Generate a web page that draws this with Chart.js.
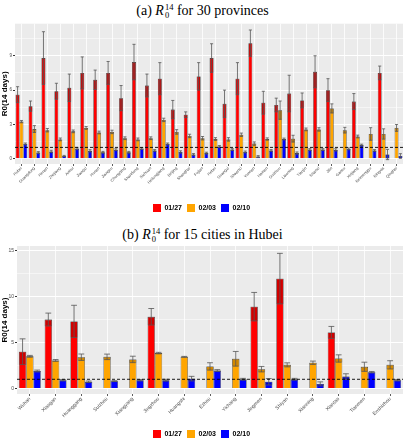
<!DOCTYPE html>
<html>
<head>
<meta charset="utf-8">
<script src="https://cdn.jsdelivr.net/npm/chart.js@4.4.1/dist/chart.umd.min.js"></script>
<style>
  body { margin: 0; background: #fff; width: 405px; height: 440px; position: relative; overflow: hidden; }
  .ttl { position: absolute; left: 0; width: 405px; text-align: center; font-family: "Liberation Serif", serif; font-size: 14px; line-height: 1; color: #000; }
  .ss { display: inline-block; vertical-align: -0.32em; font-size: 8.5px; line-height: 0.95; text-align: left; margin-left: 1px; }
  .ss span { display: block; }
  .box { position: absolute; left: 0; width: 405px; }
</style>
</head>
<body>
<div class="ttl" style="top:3px">(a) <i>R</i><span class="ss"><span>14</span><span>0</span></span> for 30 provinces</div>
<div class="box" style="top:20px;height:202px"><canvas id="provChart"></canvas></div>
<div class="ttl" style="top:227px">(b) <i>R</i><span class="ss"><span>14</span><span>0</span></span> for 15 cities in Hubei</div>
<div class="box" style="top:242px;height:206px"><canvas id="cityChart"></canvas></div>
<script>
// dates in the legend
const dates = ['01/27', '02/03', '02/10'];

// (a) provinces
const provinces = ['Hubei', 'Guangdong', 'Henan', 'Zhejiang', 'Anhui', 'Jiangxi', 'Hunan', 'Jiangsu', 'Chongqing', 'Shandong',
  'Sichuan', 'Heilongjiang', 'Beijing', 'Shanghai', 'Fujian', 'Hebei', 'Guangxi', 'Shaanxi', 'Yunnan', 'Hainan',
  'Guizhou', 'Liaoning', 'Tianjin', 'Shanxi', 'Jilin', 'Gansu', 'Xinjiang', 'Neimenggu', 'Ningxia', 'Qinghai'];
const prov0127 = [5.6, 4.6, 8.8, 5.9, 6.2, 7.5, 6.9, 7.5, 5.3, 8.45, 6.4, 7.0, 4.3, 3.85, 7.2, 8.8, 4.8, 7.0, 10.1, 4.9,
  4.7, 5.7, 5.1, 7.6, 6.0, null, 5.0, null, 7.5, null];
const prov0203 = [3.25, 2.6, 2.5, 1.7, 2.4, 2.7, 2.3, 2.35, 1.8, 1.7, 1.8, 3.4, 2.35, 2.0, 1.8, 1.73, 1.7, 2.1, 1.33, 1.73,
  4.25, 1.76, 2.57, 2.57, 4.4, 2.5, 1.95, 2.17, 2.17, 2.7];
const prov0210 = [1.3, 0.55, 0.65, 0.25, 0.9, 0.7, 0.57, 0.8, 0.57, 0.9, 0.73, 1.3, 0.6, 0.38, 0.5, 1.08, 0.81, 0.6, 0.2, 0.73,
  1.73, 0.5, 0.81, 0.81, 0.78, 0.87, 1.2, 0.73, 0.38, 0.25];
// half widths of the error bars
const provErr0127 = [0.7, 0.45, 2.3, 0.7, 1.2, 1.4, 0.85, 1.0, 1.1, 1.55, 1.0, 1.4, 0.8, 0.25, 1.2, 1.25, 1.2, 1.4, 1.15, 1.0,
  0.6, 1.6, 0.65, 1.4, 1.0, null, 0.7, null, 0.6, null];
const provErr0203 = [0.1, 0.3, 0.15, 0.12, 0.12, 0.12, 0.12, 0.15, 0.12, 0.12, 0.12, 0.15, 0.2, 0.15, 0.15, 0.12, 0.15, 0.15, 0.15, 0.1,
  0.8, 0.3, 0.12, 0.15, 0.4, 0.25, 0.12, 0.55, 0.45, 0.3];
const provErr0210 = [0.08, 0.08, 0.1, 0.05, 0.1, 0.1, 0.08, 0.08, 0.08, 0.08, 0.08, 0.08, 0.1, 0.08, 0.08, 0.08, 0.08, 0.08, 0.08, 0.08,
  0.08, 0.1, 0.08, 0.08, 0.1, 0.08, 0.08, 0.08, 0.45, 0.2];
const provTicks = [0, 3, 6, 9];

// (b) cities in Hubei
const cities = ['Wuhan', 'Xiaogan', 'Huanggang', 'Suizhou', 'Xiangyang', 'Jingzhou', 'Huangshi', 'Ezhou', 'Yichang', 'Jingmen',
  'Shiyan', 'Xianning', 'Xiantao', 'Tianmen', 'Enshizhou'];
const city0127 = [4.0, 7.5, 7.3, null, null, 7.8, null, null, null, 8.9, 11.95, null, 6.1, null, null];
const city0203 = [3.5, 3.05, 3.4, 3.44, 3.16, 3.85, 3.44, 2.4, 3.23, 2.1, 2.57, 2.8, 3.26, 2.36, 2.57];
const city0210 = [1.9, 0.9, 0.73, 0.8, 0.9, 0.9, 1.07, 1.95, 1.0, 0.73, 1.0, 0.5, 1.3, 1.77, 0.9];
const cityErr0127 = [1.4, 0.7, 1.75, null, null, 0.9, null, null, null, 1.55, 2.75, null, 0.65, null, null];
const cityErr0203 = [0.1, 0.1, 0.35, 0.3, 0.35, 0.08, 0.05, 0.4, 0.8, 0.3, 0.22, 0.18, 0.4, 0.5, 0.45];
const cityErr0210 = [0.1, 0.08, 0.08, 0.05, 0.08, 0.1, 0.25, 0.1, 0.1, 0.35, 0.1, 0.22, 0.3, 0.08, 0.08];
const cityTicks = [0, 5, 10, 15];

const colors = ['#FF0000', '#FFA500', '#0000FF'];
const FONT = 'Liberation Sans';

// grey panel like ggplot
const panelBg = {
  id: 'panelBg',
  beforeDraw(chart) {
    const a = chart.chartArea, ctx = chart.ctx;
    ctx.save();
    ctx.fillStyle = '#EBEBEB';
    ctx.fillRect(a.left, a.top, a.right - a.left, a.bottom - a.top);
    ctx.restore();
  }
};

// error bars + dashed line at R0 = 1
const errorBars = {
  id: 'errorBars',
  afterDatasetsDraw(chart) {
    const ctx = chart.ctx, y = chart.scales.y, a = chart.chartArea;
    chart.data.datasets.forEach((ds, i) => {
      const meta = chart.getDatasetMeta(i);
      meta.data.forEach((bar, j) => {
        const v = ds.data[j], e = ds.err[j];
        if (v == null || e == null) return;
        const top = y.getPixelForValue(v + e), low = y.getPixelForValue(v - e);
        const w = bar.width;
        ctx.save();
        ctx.fillStyle = 'rgba(0,0,0,0.18)';
        ctx.fillRect(bar.x - w / 2, bar.y, w, low - bar.y);
        ctx.strokeStyle = '#555';
        ctx.lineWidth = 0.8;
        ctx.beginPath();
        ctx.moveTo(bar.x, top); ctx.lineTo(bar.x, low);
        ctx.moveTo(bar.x - w * 0.4, top); ctx.lineTo(bar.x + w * 0.4, top);
        ctx.moveTo(bar.x - w * 0.4, low); ctx.lineTo(bar.x + w * 0.4, low);
        ctx.stroke();
        ctx.restore();
      });
    });
    const y1 = y.getPixelForValue(1);
    ctx.save();
    ctx.strokeStyle = '#000';
    ctx.lineWidth = 0.9;
    ctx.setLineDash([3, 2]);
    ctx.beginPath();
    ctx.moveTo(a.left, y1); ctx.lineTo(a.right, y1);
    ctx.stroke();
    ctx.restore();
  }
};

function makeChart(id, labels, series, errs, ticks, yMin, yMax, opt) {
  const allTicks = [];
  ticks.forEach((t, k) => {
    allTicks.push(t);
    if (k < ticks.length - 1) allTicks.push((t + ticks[k + 1]) / 2);
  });
  allTicks.push(ticks[ticks.length - 1] + (ticks[1] - ticks[0]) / 2);
  const isMajor = v => ticks.includes(v);

  return new Chart(document.getElementById(id), {
    type: 'bar',
    data: {
      labels: labels,
      datasets: series.map((s, i) => ({
        label: dates[i],
        data: s,
        err: errs[i],
        backgroundColor: colors[i],
        borderColor: 'rgba(0,0,0,0.75)',
        borderWidth: 0.6,
        categoryPercentage: opt.catPct,
        barPercentage: 1.0
      }))
    },
    options: {
      responsive: true,
      maintainAspectRatio: false,
      animation: false,
      layout: { padding: { top: 1, right: 2, left: 0, bottom: 0 } },
      plugins: {
        tooltip: { enabled: false },
        legend: {
          position: 'bottom',
          labels: {
            boxWidth: 8, boxHeight: 8, padding: 5, color: '#000',
            font: { family: FONT, size: 7, weight: 'bold' },
            generateLabels: chart => Chart.defaults.plugins.legend.labels.generateLabels(chart)
              .map(l => Object.assign(l, { lineWidth: 0 }))
          }
        }
      },
      scales: {
        x: {
          afterFit: scale => { scale.height = opt.xHeight; },
          grid: { color: '#fff', lineWidth: 0.8, offset: false, tickLength: 2, tickColor: '#333' },
          border: { display: false },
          ticks: {
            autoSkip: false, minRotation: 45, maxRotation: 45, padding: 0,
            color: '#4d4d4d', font: { family: FONT, size: opt.xFont }
          }
        },
        y: {
          min: yMin, max: yMax,
          afterFit: scale => { scale.width = opt.yWidth; },
          afterBuildTicks: scale => { scale.ticks = allTicks.map(v => ({ value: v })); },
          grid: {
            color: '#fff',
            lineWidth: c => isMajor(c.tick.value) ? 1 : 0.5,
            tickLength: 2,
            tickColor: c => isMajor(c.tick.value) ? '#333' : 'rgba(0,0,0,0)'
          },
          border: { display: false },
          ticks: {
            padding: 1, color: '#4d4d4d', font: { family: FONT, size: opt.yFont },
            callback: v => isMajor(v) ? String(v) : ''
          },
          title: {
            display: true, text: 'R0(14 days)', color: '#000', padding: 0,
            font: { family: FONT, size: 8, weight: 'bold' }
          }
        }
      }
    },
    plugins: [panelBg, errorBars]
  });
}

makeChart('provChart', provinces, [prov0127, prov0203, prov0210], [provErr0127, provErr0203, provErr0210],
  provTicks, -0.45, 11.8, { catPct: 0.9, xHeight: 35, yWidth: 15, xFont: 4, yFont: 4.5 });

makeChart('cityChart', cities, [city0127, city0203, city0210], [cityErr0127, cityErr0203, cityErr0210],
  cityTicks, -0.6, 15.5, { catPct: 0.85, xHeight: 31, yWidth: 17, xFont: 5, yFont: 5 });
</script>
</body>
</html>
